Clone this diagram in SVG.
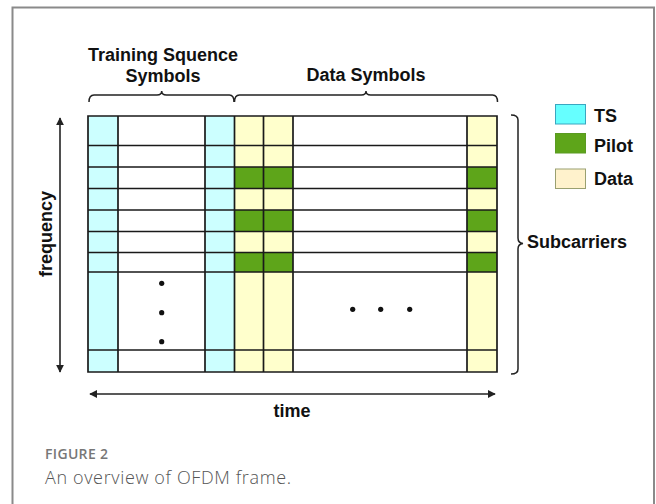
<svg xmlns="http://www.w3.org/2000/svg" width="656" height="504" viewBox="0 0 656 504">
<style>
.lbl{font-family:"Liberation Sans",Arial,sans-serif;font-weight:bold;font-size:18px;fill:#111}
.ts{fill:#ccffff}
.dt{fill:#ffffcc}
.pl{fill:#5ea51a}
.grid{stroke:#1a1a1a;stroke-width:1.7;fill:none}
.br{stroke:#222;stroke-width:1.5;fill:none}
.ax{stroke:#222;stroke-width:1.6;fill:none}
.cap1{font-family:"Open Sans","Noto Sans",sans-serif;font-weight:600;font-size:14px;fill:#777}
.cap2{font-family:"Open Sans","Noto Sans",sans-serif;font-weight:300;font-size:18px;fill:#555}
</style>
<defs>
<marker id="ah" viewBox="0 0 10 10" refX="9" refY="5" markerWidth="8" markerHeight="8" markerUnits="userSpaceOnUse" orient="auto-start-reverse">
<path d="M0,0 L10,5 L0,10 z" fill="#222"/>
</marker>
</defs>
<rect x="0" y="0" width="656" height="504" fill="#fff"/>
<rect id="frame" x="12.5" y="7.5" width="641.5" height="520" fill="#fff" stroke="#8a8a8a" stroke-width="2"/>

<g id="grid">
<rect class="ts" x="88" y="116" width="30" height="256"/>
<rect class="ts" x="205" y="116" width="29.5" height="256"/>
<rect class="dt" x="234.5" y="116" width="58.5" height="256"/>
<rect class="dt" x="467" y="116" width="30" height="256"/>
<rect class="pl" x="234.5" y="167" width="58.5" height="21.5"/>
<rect class="pl" x="234.5" y="210" width="58.5" height="21.5"/>
<rect class="pl" x="234.5" y="252.5" width="58.5" height="19.5"/>
<rect class="pl" x="467" y="167" width="30" height="21.5"/>
<rect class="pl" x="467" y="210" width="30" height="21.5"/>
<rect class="pl" x="467" y="252.5" width="30" height="19.5"/>
<path class="grid" d="M88,116 H497 V372 H88 Z M118,116 V372 M205,116 V372 M234.5,116 V372 M263.5,116 V372 M293,116 V372 M467,116 V372 M88,145.5 H497 M88,167 H497 M88,188.5 H497 M88,210 H497 M88,231.5 H497 M88,252.5 H497 M88,272 H497 M88,350 H497"/>
<g fill="#111">
<circle cx="161.7" cy="283.3" r="2.6"/>
<circle cx="161.7" cy="312.7" r="2.6"/>
<circle cx="161.7" cy="341.7" r="2.6"/>
<circle cx="352.7" cy="309.3" r="2.6"/>
<circle cx="380.7" cy="309.3" r="2.6"/>
<circle cx="409.7" cy="309.3" r="2.6"/>
</g>
</g>

<g id="connectors">
<path class="br" d="M89,102 q0,-7 5,-7 h63 q4.7,0 4.7,-4 q0,4 4.7,4 h63 q4.6,0 4.6,7"/>
<path class="br" d="M234.5,102 q0,-7 5,-7 h121.8 q4.7,0 4.7,-4 q0,4 4.7,4 h121.8 q5,0 5,7"/>
<path class="br" d="M511,115 q7,0 7,5 v118 q0,5 5,5.5 q-5,0.5 -5,5.5 v120 q0,5 -7,5"/>
<line class="ax" x1="90" y1="394" x2="495" y2="394" marker-start="url(#ah)" marker-end="url(#ah)"/>
<line class="ax" x1="60" y1="118" x2="60" y2="372" marker-start="url(#ah)" marker-end="url(#ah)"/>
</g>

<g id="label-ts">
<text class="lbl" x="163" y="61" text-anchor="middle">Training Squence</text>
<text class="lbl" x="163" y="82" text-anchor="middle">Symbols</text>
</g>
<g id="label-data">
<text class="lbl" x="366" y="81" text-anchor="middle">Data Symbols</text>
</g>
<g id="label-subcarriers">
<text class="lbl" x="527" y="247.5">Subcarriers</text>
</g>
<g id="label-time">
<text class="lbl" x="292" y="416.5" text-anchor="middle">time</text>
</g>
<g id="label-frequency">
<text class="lbl" transform="translate(52,234) rotate(-90)" text-anchor="middle">frequency</text>
</g>

<g id="legend-ts">
<rect x="555.5" y="104.5" width="30" height="19.5" fill="#66ffff" stroke="#3aa6c0" stroke-width="1"/>
<text class="lbl" x="594" y="122.3" font-size="17.5">TS</text>
</g>
<g id="legend-pilot">
<rect x="555.5" y="133.5" width="30" height="19.5" fill="#5ea51a" stroke="#5a9a22" stroke-width="1"/>
<text class="lbl" x="594" y="151.7">Pilot</text>
</g>
<g id="legend-data">
<rect x="555.5" y="169" width="30" height="19.5" fill="#fff2cc" stroke="#9aa070" stroke-width="1"/>
<text class="lbl" x="594" y="185">Data</text>
</g>

<g id="caption">
<text class="cap1" x="45" y="459.3" textLength="63" lengthAdjust="spacing">FIGURE 2</text>
<text class="cap2" x="45" y="483.5" textLength="246" lengthAdjust="spacing">An overview of OFDM frame.</text>
</g>
</svg>
